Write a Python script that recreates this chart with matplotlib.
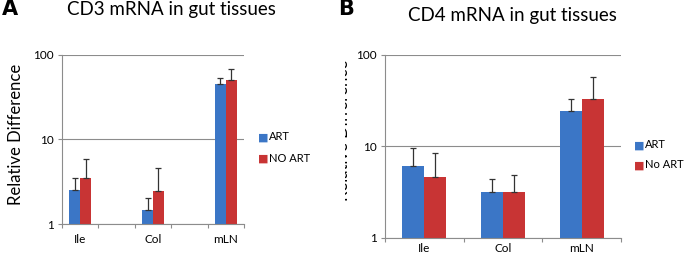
import numpy as np
import matplotlib
matplotlib.use("Agg")
import matplotlib.pyplot as plt
from matplotlib.patches import Rectangle

plt.rcParams['font.family'] = ['Lato', 'DejaVu Sans']

# panel A (5 excel categories, two blank)
cats_a = ['Ile', '', 'Col', '', 'mLN']
art_a = [2.5, np.nan, 1.45, np.nan, 45]
art_a_err = [1.0, np.nan, 0.6, np.nan, 9]
noart_a = [3.5, np.nan, 2.45, np.nan, 50]
noart_a_err = [2.4, np.nan, 2.1, np.nan, 18]

# panel B
cats_b = ['Ile', 'Col', 'mLN']
art_b = [6.1, 3.15, 24.4]
art_b_err = [3.6, 1.3, 9]
noart_b = [4.6, 3.2, 32.8]
noart_b_err = [3.9, 1.7, 25]

blue = '#3b76c6'
red = '#c83434'
grey = '#8c8c8c'

fig = plt.figure(figsize=(6.85, 2.57), dpi=100)


def panel(ax, cats, art, art_err, noart, noart_err, w, xpad):
    x = np.arange(len(cats))
    ax.bar(x - w/2, art, w, color=blue, zorder=2)
    ax.bar(x + w/2, noart, w, color=red, zorder=2)
    ax.errorbar(x - w/2, art, yerr=[np.zeros(len(x)), art_err], fmt='none',
                ecolor='#333333', elinewidth=0.9, capsize=2.5, capthick=0.9, zorder=3)
    ax.errorbar(x + w/2, noart, yerr=[np.zeros(len(x)), noart_err], fmt='none',
                ecolor='#333333', elinewidth=0.9, capsize=2.5, capthick=0.9, zorder=3)
    ax.set_yscale('log')
    ax.set_ylim(1, 100)
    ax.set_xlim(-0.5, len(cats) - 0.5)
    ax.set_yticks([1, 10, 100])
    ax.set_yticklabels(['1', '10', '100'])
    ax.yaxis.set_minor_locator(matplotlib.ticker.NullLocator())
    ax.set_xticks(np.arange(len(cats) + 1) - 0.5)
    ax.set_xticklabels([])
    ax.set_xticks(x, minor=True)
    ax.set_xticklabels(cats, minor=True)
    ax.tick_params(axis='x', which='minor', length=0, labelsize=8.5, pad=xpad)
    ax.tick_params(axis='x', which='major', length=3, color=grey)
    ax.tick_params(axis='y', length=3, color=grey, labelsize=8.5, pad=3)
    ax.grid(axis='y', which='major', color=grey, linewidth=0.8, zorder=0)
    for s in ['top', 'right']:
        ax.spines[s].set_visible(False)
    for s in ['left', 'bottom']:
        ax.spines[s].set_color(grey)
        ax.spines[s].set_linewidth(0.8)
    ax.set_axisbelow(True)


axA = fig.add_axes([0.0905, 0.1284, 0.2657, 0.6576])
panel(axA, cats_a, art_a, art_a_err, noart_a, noart_a_err, 0.3, 7)
axB = fig.add_axes([0.562, 0.074, 0.3445, 0.712])
panel(axB, cats_b, art_b, art_b_err, noart_b, noart_b_err, 0.28, 3.5)

# legends
fs = 8
fig.text(263/685, 1 - 137/257, '\u25A0', color=blue, fontsize=fs, ha='center', va='center')
fig.text(269/685, 1 - 137/257, 'ART', fontsize=fs, va='center')
fig.text(263/685, 1 - 158/257, '\u25A0', color=red, fontsize=fs, ha='center', va='center')
fig.text(269/685, 1 - 158/257, 'NO ART', fontsize=fs, va='center')
fig.text(639/685, 1 - 145/257, '\u25A0', color=blue, fontsize=fs, ha='center', va='center')
fig.text(645/685, 1 - 145/257, 'ART', fontsize=fs, va='center')
fig.text(639/685, 1 - 165/257, '\u25A0', color=red, fontsize=fs, ha='center', va='center')
fig.text(645/685, 1 - 165/257, 'No ART', fontsize=fs, va='center')

# titles and panel letters
fig.text(171/685, 1 - 9/257, 'CD3 mRNA in gut tissues', fontsize=13.5, ha='center', va='center')
fig.text(512/685, 1 - 16/257, 'CD4 mRNA in gut tissues', fontsize=13.5, ha='center', va='center')
fig.text(2/685, 1 - 9/257, 'A', fontsize=15, fontweight='bold', family='DejaVu Sans', va='center')
fig.text(338/685, 1 - 9/257, 'B', fontsize=15, fontweight='bold', family='DejaVu Sans', va='center')

# y labels
fig.text(16/685, 1 - 134/257, 'Relative Difference', fontsize=12, rotation=90,
         ha='center', va='center')
tB = fig.text(343/685, 1 - 130/257, 'Relative Difference', fontsize=12, rotation=90,
              ha='center', va='center')
clip = Rectangle((345/685, 0), 0.2, 1, transform=fig.transFigure)
tB.set_clip_path(clip)

fig.savefig('out.png', dpi=100)
